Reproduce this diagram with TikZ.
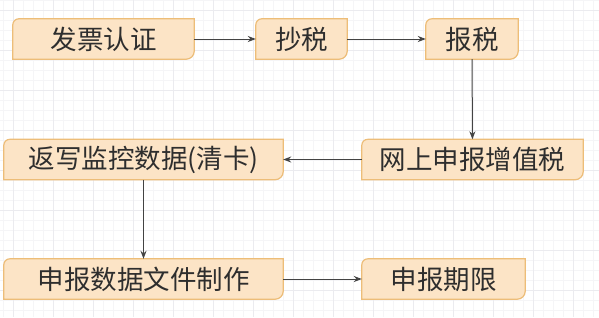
\documentclass[tikz,border=0pt]{standalone}
\usepackage{fontspec}
\setmainfont{Noto Sans CJK SC}
\usetikzlibrary{arrows.meta}

\definecolor{boxfill}{HTML}{FCE4C6}
\definecolor{boxedge}{HTML}{EDBD78}
\definecolor{ink}{HTML}{2E2E2E}
\definecolor{gridminor}{HTML}{F5F5F7}
\definecolor{gridmajor}{HTML}{EBEBEF}

\pgfdeclarelayer{background}
\pgfsetlayers{background,main}

\tikzset{
  stepnode/.style={minimum height=40pt, inner sep=0pt, text=ink,
    font=\fontsize{26.5}{28}\selectfont},
  flow/.style={draw=ink!90, line width=1pt, -{Stealth[length=8pt,width=6pt]}},
}

% outline with rounded top-left and bottom-right corners
\newcommand{\tagoutline}[1]{%
  \draw[boxedge, line width=1.2pt, fill=boxfill]
    ([yshift=-6pt]#1.north west) arc[start angle=180, end angle=90, radius=6pt]
    -- (#1.north east) -- ([yshift=8pt]#1.south east)
    arc[start angle=0, end angle=-90, radius=8pt]
    -- (#1.south west) -- cycle;}

\begin{document}
\begin{tikzpicture}[x=1pt,y=1pt]
  \def\rowA{278}
  \def\rowB{157.5}
  \def\rowC{38}

  \useasboundingbox (0,0) rectangle (599,317);

  % Boxes
  \node[stepnode, minimum width=181pt] (invoice)   at (103.5,\rowA) {发票认证};
  \node[stepnode, minimum width=91pt]  (copytax)   at (301.5,\rowA) {抄税};
  \node[stepnode, minimum width=92pt]  (filetax)   at (472,\rowA)   {报税};
  \node[stepnode, minimum width=221pt] (online)    at (472.5,\rowB) {网上申报增值税};
  \node[stepnode, minimum width=279pt] (writeback) at (143.5,\rowB) {返写监控数据(清卡)};
  \node[stepnode, minimum width=279pt] (datafile)  at (143.5,\rowC) {申报数据文件制作};
  \node[stepnode, minimum width=163pt] (deadline)  at (443.5,\rowC) {申报期限};

  \begin{pgfonlayer}{background}
    \fill[white] (0,0) rectangle (599,317);

    % Draw grid
    \foreach \x in {3,13,...,593} {
      \draw[gridminor, line width=0.5pt] (\x,0) -- (\x,317);
    }
    \foreach \y in {7,17,...,317} {
      \draw[gridminor, line width=0.5pt] (0,\y) -- (599,\y);
    }
    \foreach \x in {13,53,...,573} {
      \draw[gridmajor, line width=0.6pt] (\x,0) -- (\x,317);
    }
    \foreach \y in {27,67,...,307} {
      \draw[gridmajor, line width=0.6pt] (0,\y) -- (599,\y);
    }

    % Box outlines
    \foreach \b in {invoice,copytax,filetax,online,writeback,datafile,deadline} {
      \tagoutline{\b}
    }
  \end{pgfonlayer}

  % Connectors
  \draw[flow] (invoice) -- (copytax);
  \draw[flow] (copytax) -- (filetax);
  \draw[flow] (filetax) -- (online);
  \draw[flow] (online) -- (writeback);
  \draw[flow] (writeback) -- (datafile);
  \draw[flow] (datafile) -- (deadline);
\end{tikzpicture}
\end{document}
